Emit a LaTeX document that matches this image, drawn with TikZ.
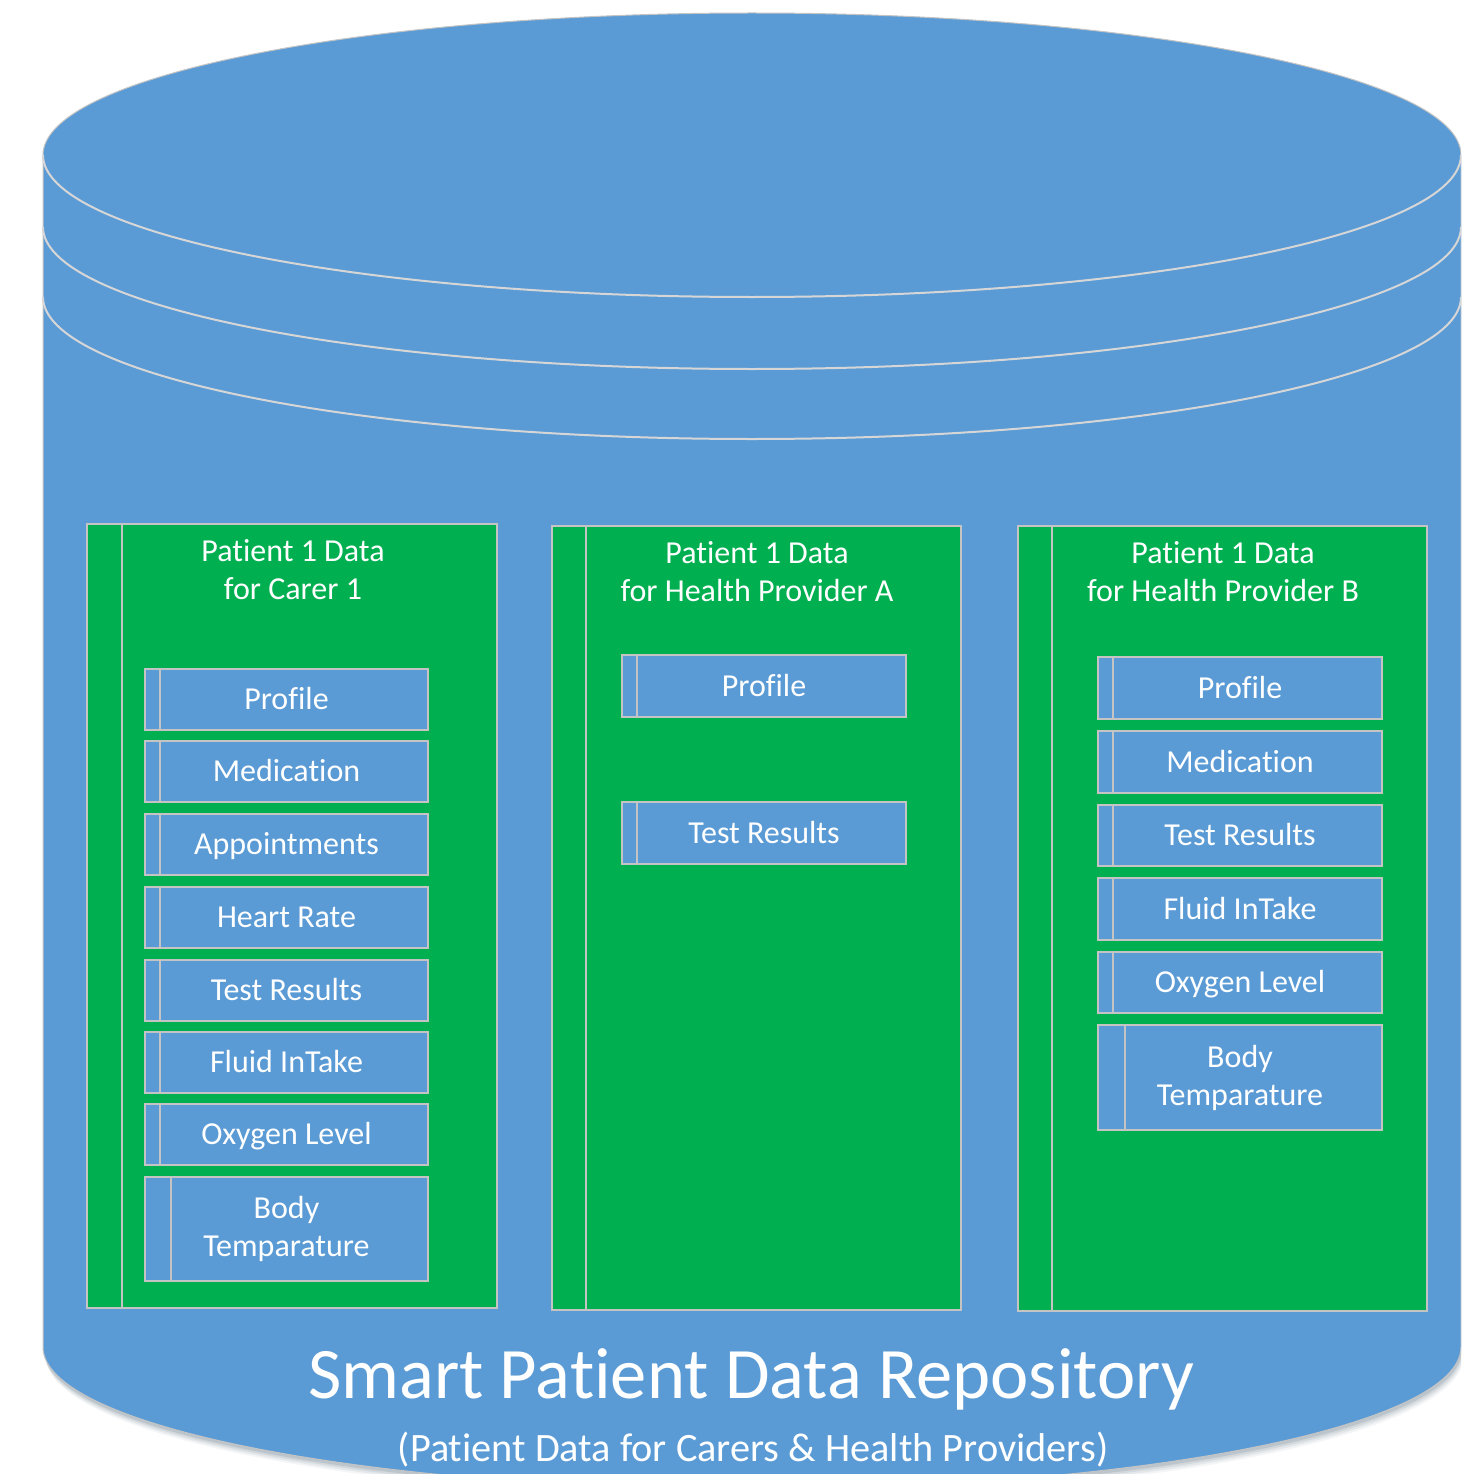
\documentclass[tikz,border=0pt]{standalone}
\usepackage{fontspec}
\setmainfont{Carlito}[Ligatures=NoCommon]
\definecolor{cylblue}{HTML}{5B9BD5}
\definecolor{pgreen}{HTML}{00B050}
\definecolor{edgegray}{HTML}{C4C4C4}
\definecolor{arcgray}{HTML}{D6D6D6}
\begin{document}
\begin{tikzpicture}[x=1pt,y=-1pt,
  barline/.style={draw=edgegray, line width=1.5pt},
  barw/.code={\def\itembarw{#1}},
  barw=15pt,
  panel/.style={draw=edgegray, line width=1.5pt, fill=pgreen, inner sep=0pt,
    minimum width=409pt, minimum height=784pt,
    path picture={\draw[barline] ([xshift=\itembarw]path picture bounding box.north west) -- ([xshift=\itembarw]path picture bounding box.south west);}},
  ptitle/.style={text=white, align=center, inner sep=0pt, font=\fontsize{32pt}{38pt}\selectfont},
  item/.style={draw=edgegray, line width=1.5pt, fill=cylblue, inner sep=0pt,
    minimum width=284pt, minimum height=62pt, text=white,
    font=\fontsize{32pt}{38pt}\selectfont, text height=24pt, text depth=4pt,
    path picture={\draw[barline] ([xshift=\itembarw]path picture bounding box.north west) -- ([xshift=\itembarw]path picture bounding box.south west);}},
  twoline/.style={align=center, text height=60pt, text depth=5pt}
]
\useasboundingbox (0,0) rectangle (1461,1474);
\fill[white] (0,0) rectangle (1461,1474);
\clip (0,0) rectangle (1461,1474);

% soft shadow below the cylinder
\foreach \d/\o in {9/0.05,7/0.07,5/0.09,3/0.12} {
  \fill[black!60!cylblue, opacity=\o] (43+\d*0.3,155) -- (43+\d*0.3,1347+\d)
    arc[start angle=180, end angle=0, x radius=709, y radius=142] -- (1461,155) -- cycle;
}

% cylinder body
\draw[fill=cylblue, draw=edgegray, line width=1pt]
  (43,155) -- (43,1347) arc[start angle=180, end angle=0, x radius=709, y radius=142]
  -- (1461,155) arc[start angle=0, end angle=-180, x radius=709, y radius=142] -- cycle;

% rings of the top
\foreach \yy in {155,227,297} {
  \draw[arcgray, line width=2pt] (43,\yy) arc[start angle=180, end angle=0, x radius=709, y radius=142];
}

% panels
\node[panel, barw=35pt, minimum width=410pt] (p1) at (292,916) {};
\node[panel, barw=34pt] (p2) at (756.5,918) {};
\node[panel, barw=34pt, minimum height=785pt] (p3) at (1222.5,918.5) {};

\node[ptitle, anchor=base] (t1) at (293,599) {Patient 1 Data\\for Carer 1};
\node[ptitle, anchor=base] (t2) at (757,601) {Patient 1 Data\\for Health Provider A};
\node[ptitle, anchor=base] (t3) at (1223,601) {Patient 1 Data\\for Health Provider B};

% Carer 1 items
\node[item, minimum width=283pt, minimum height=61pt] (c1) at (286.5,699.5) {Profile};
\node[item, minimum width=283pt, minimum height=61pt] (c2) at (286.5,771.5) {Medication};
\node[item, minimum width=283pt, minimum height=61pt] (c3) at (286.5,844.5) {Appointments};
\node[item, minimum width=283pt, minimum height=61pt] (c4) at (286.5,917.5) {Heart Rate};
\node[item, minimum width=283pt, minimum height=61pt] (c5) at (286.5,990.5) {Test Results};
\node[item, minimum width=283pt, minimum height=61pt] (c6) at (286.5,1062.5) {Fluid InTake};
\node[item, minimum width=283pt, minimum height=61pt] (c7) at (286.5,1134.5) {Oxygen Level};
\node[item, twoline, barw=26pt, minimum width=283pt, minimum height=104pt] (c8) at (286.5,1229) {Body\\Temparature};

% Health Provider A items
\node[item] (a1) at (764,686) {Profile};
\node[item] (a2) at (764,833) {Test Results};

% Health Provider B items
\node[item] (b1) at (1240,688) {Profile};
\node[item] (b2) at (1240,762) {Medication};
\node[item, minimum height=61pt] (b3) at (1240,835.5) {Test Results};
\node[item] (b4) at (1240,909) {Fluid InTake};
\node[item, minimum height=61pt] (b5) at (1240,982.5) {Oxygen Level};
\node[item, twoline, barw=27pt, minimum height=105pt] (b6) at (1240,1077.5) {Body\\Temparature};

% caption
\node[anchor=base, text=white, inner sep=0pt, font=\fontsize{72.5pt}{80pt}\selectfont] (title) at (751,1398) {Smart Patient Data Repository};
\node[anchor=base, text=white, inner sep=0pt, font=\fontsize{40.3pt}{46pt}\selectfont] (subtitle) at (753,1461) {(Patient Data for Carers \& Health Providers)};
\end{tikzpicture}
\end{document}
